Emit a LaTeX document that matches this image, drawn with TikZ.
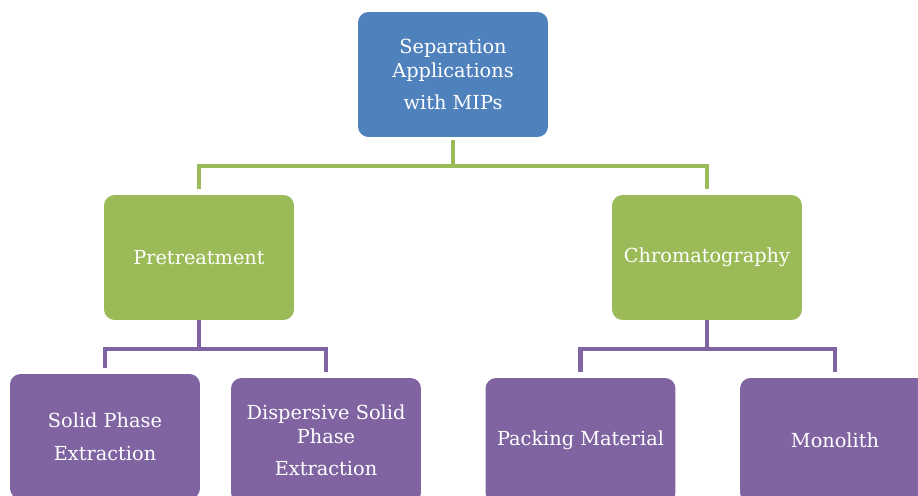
\documentclass[tikz,border=0pt]{standalone}
\usepackage{fontspec}
\setmainfont{DejaVu Serif}
\definecolor{mblue}{HTML}{4F81BD}
\definecolor{mgreen}{HTML}{9BBB59}
\definecolor{mviolet}{HTML}{8064A2}
\tikzset{
  bbox/.style={fill=mblue, text=white, rounded corners=6pt, align=center,
               minimum width=3.8cm, minimum height=2.5cm, inner sep=2pt,
               font=\fontsize{11}{13.6}\selectfont},
  gbox/.style={fill=mgreen, text=white, rounded corners=6pt, align=center,
               minimum width=3.8cm, minimum height=2.5cm, inner sep=2pt,
               font=\fontsize{11}{13.6}\selectfont},
  vbox/.style={fill=mviolet, text=white, rounded corners=6pt, align=center,
               minimum width=3.8cm, minimum height=2.5cm, inner sep=2pt,
               font=\fontsize{11}{13.6}\selectfont},
  glink/.style={draw=mgreen, line width=2.8pt, shorten >=0.11cm},
  vlink/.style={draw=mviolet, line width=2.8pt, shorten >=0.12cm},
}
\begin{document}
\begin{tikzpicture}[x=0.02cm, y=-0.02cm]
    \useasboundingbox (0,0) rectangle (918,496);
    \clip (0,0) rectangle (918,496);
    \node[bbox] (sep) at (453, 74.5) {Separation\\Applications\\[5pt]with MIPs};
    \node[gbox] (pre) at (199, 257.5) {Pretreatment};
    \node[gbox] (chr) at (707, 257.5) {Chromatography};
    \node[vbox] (spe) at (105, 436.5) {Solid Phase\\[5pt]Extraction};
    \node[vbox] (dsp) at (326, 440.5) {Dispersive Solid\\Phase\\[5pt]Extraction};
    \node[vbox] (pack) at (580.5, 440.5) {Packing Material};
    \node[vbox] (mono) at (835, 440.5) {Monolith};

    \coordinate (gj) at (453, 166);
    \coordinate (pj) at (199, 349);
    \coordinate (cj) at (707, 349);

    \draw[glink, shorten >=0pt, shorten <=0.06cm] (sep) -- (gj);
    \draw[glink] (gj) -| (pre);
    \draw[glink] (gj) -| (chr);
    \draw[vlink, shorten >=0pt] (pre) -- (pj);
    \draw[vlink] (pj) -| (spe);
    \draw[vlink] (pj) -| (dsp);
    \draw[vlink, shorten >=0pt] (chr) -- (cj);
    \draw[vlink] (cj) -| (pack);
    \draw[vlink] (cj) -| (mono);
  \end{tikzpicture}
\end{document}
